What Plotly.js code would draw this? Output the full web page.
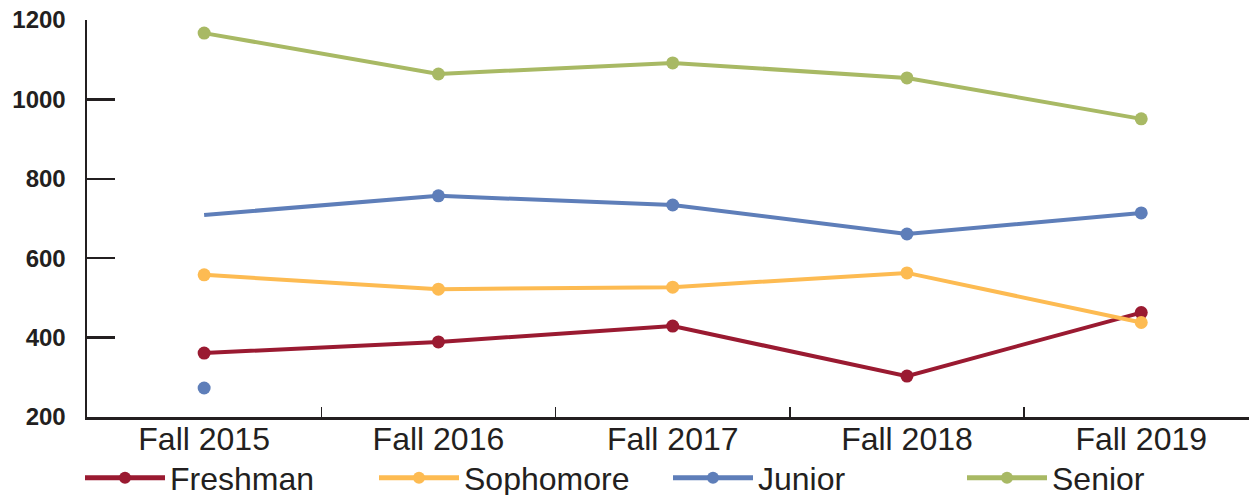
<!DOCTYPE html>
<html>
<head>
<meta charset="utf-8">
<script src="https://cdn.plot.ly/plotly-3.0.1.min.js"></script>
<style>html,body{margin:0;padding:0;background:#fff;}#chart{width:1249px;height:495px;}</style>
</head>
<body>
<div id="chart"></div>
<script>
const categories = ["Fall 2015", "Fall 2016", "Fall 2017", "Fall 2018", "Fall 2019"];
const freshman = [361, 389, 429, 303, 463];
const sophomore = [558, 522, 527, 563, 438];
const junior = [709, 757, 734, 661, 714];
const juniorFall2015Point = [273];
const senior = [1167, 1064, 1092, 1054, 951];
const yTicks = [200, 400, 600, 800, 1000, 1200];

const colors = {freshman: "#9A1A31", sophomore: "#FDBB52", junior: "#5E7EB9", senior: "#A8B964"};

function series(name, y, color, sizes) {
  return {
    type: "scatter", mode: "lines+markers", name: name,
    x: categories, y: y,
    line: {color: color, width: 4},
    marker: {color: color, size: sizes || 13, opacity: 1, line: {width: 0}}
  };
}

const traces = [
  series("Freshman", freshman, colors.freshman),
  series("Sophomore", sophomore, colors.sophomore),
  series("Junior", junior, colors.junior, junior.map((v, i) => i === 0 ? 0 : 13)),
  {type: "scatter", mode: "markers", x: categories.slice(0, 1), y: juniorFall2015Point,
   marker: {color: colors.junior, size: 13, opacity: 1, line: {width: 0}}, showlegend: false, name: "Junior"},
  series("Senior", senior, colors.senior)
];

const layout = {
  width: 1249, height: 495,
  margin: {l: 87, r: 0, t: 20, b: 78, autoexpand: false},
  paper_bgcolor: "#fff", plot_bgcolor: "#fff",
  font: {family: "Liberation Sans, Arial, sans-serif", color: "#231F20"},
  showlegend: true,
  legend: {
    orientation: "h", xref: "paper", yref: "paper",
    x: (80 - 87) / 1162, xanchor: "left", y: (417 - 478) / 397, yanchor: "middle",
    entrywidth: 199, entrywidthmode: "pixels",
    itemwidth: 80, itemsizing: "constant",
    borderwidth: 0,
    font: {size: 32, family: "Liberation Sans, Arial, sans-serif", color: "#231F20"},
    bgcolor: "rgba(0,0,0,0)"
  },
  xaxis: {
    type: "category", range: [-0.5, 4.46],
    showgrid: false, zeroline: false,
    showline: true, linecolor: "#231F20", linewidth: 2.5,
    ticks: "inside", tickson: "boundaries", ticklen: 10, tickwidth: 1.5, tickcolor: "#231F20",
    tickfont: {size: 32, color: "#231F20"},
    ticklabelstandoff: -8,
    fixedrange: true
  },
  yaxis: {
    range: [200, 1200],
    tickvals: yTicks, ticktext: yTicks.map(String),
    showgrid: false, zeroline: false,
    showline: true, linecolor: "#231F20", linewidth: 2.5,
    ticks: "inside", ticklen: 28, tickwidth: 2.5, tickcolor: "#231F20",
    tickfont: {size: 24, color: "#231F20", weight: "bold"},
    ticklabelstandoff: 14,
    fixedrange: true
  }
};

Plotly.newPlot("chart", traces, layout, {displayModeBar: false, staticPlot: true});
</script>
</body>
</html>
